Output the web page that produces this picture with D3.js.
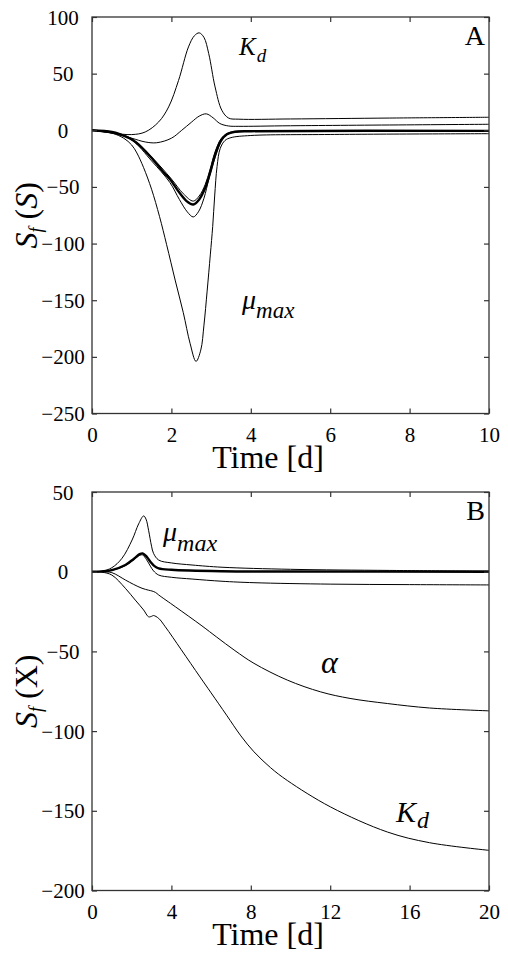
<!DOCTYPE html>
<html><head><meta charset="utf-8">
<script src="https://cdn.jsdelivr.net/npm/d3@7"></script>
<style>
body{margin:0;background:#fff}
svg{display:block}
</style>
</head><body>
<svg id="c" width="508" height="960"></svg>
<script>
// ---------- data ----------
const xTicksA = [0, 2, 4, 6, 8, 10];
const yTicksA = [100, 50, 0, -50, -100, -150, -200, -250];
const xTicksB = [0, 4, 8, 12, 16, 20];
const yTicksB = [50, 0, -50, -100, -150, -200];

// Panel A: S_f(S) sensitivity curves, [time, value]
const aKd = [[0,0],[0.5,-2.4],[1.0,-3.8],[1.34,-1.5],[1.68,7.4],[1.93,20.6],[2.18,44],[2.43,73.6],[2.58,83.5],[2.7,86],[2.82,82],[2.94,67.7],[3.1,38.3],[3.27,17.7],[3.44,10.8],[3.7,9.8],[5,10],[7.5,10.8],[10,11.5]];
const aBump = [[0,0],[0.5,-2.5],[1.0,-7],[1.34,-10.3],[1.63,-11],[2.0,-7],[2.26,0],[2.5,7],[2.7,12.5],[2.88,14.5],[3.05,11],[3.22,6],[3.44,3.8],[3.7,3.5],[5,4],[10,5.3]];
const aThick = [[0,0],[0.5,-1.5],[0.7,-3.5],[1.0,-8],[1.25,-15],[1.54,-26],[1.8,-37],[1.96,-43],[2.2,-55],[2.4,-63],[2.55,-65.5],[2.7,-61],[2.85,-51],[2.97,-38],[3.1,-22],[3.25,-9],[3.4,-3.5],[3.6,-1.3],[4,-0.8],[10,-0.5]];
const aThin1 = [[0,0],[0.5,-1.4],[1.0,-7.5],[1.5,-23.5],[2.0,-43],[2.3,-56],[2.55,-62.5],[2.7,-58],[2.85,-48],[2.97,-35],[3.1,-19],[3.25,-7.5],[3.4,-2.8],[3.6,-1.1],[4,-0.7],[10,-0.4]];
const aThin2 = [[0,0],[0.5,-1.6],[1.0,-8.5],[1.5,-27],[1.96,-46],[2.2,-61],[2.4,-72],[2.55,-76.5],[2.68,-72],[2.82,-60],[2.95,-42],[3.1,-24],[3.25,-10],[3.4,-3.8],[3.6,-1.5],[4,-1],[10,-0.6]];
const aMu = [[0,0],[0.5,-2.5],[0.8,-7],[1.0,-13],[1.13,-20],[1.3,-33],[1.5,-52],[1.7,-76],[1.88,-101],[2.1,-133],[2.3,-161],[2.47,-188],[2.62,-204],[2.74,-194],[2.82,-172],[2.9,-142],[2.98,-110],[3.04,-85],[3.09,-58],[3.15,-32],[3.23,-16],[3.35,-9],[3.5,-6.5],[4,-4.6],[6,-3.7],[10,-3]];

// Panel B: S_f(X) sensitivity curves, [time, value]
const bMu = [[0,0],[0.5,0.3],[1.0,2.5],[1.51,8.4],[2.02,19.9],[2.35,30],[2.6,35],[2.72,33],[2.85,26],[3.0,16],[3.1,11.5],[3.36,7.3],[4,5.5],[5.04,4.2],[6.55,2.8],[10,1.5],[15,0.8],[20,0.4]];
const bThick = [[0,0],[0.5,0.2],[1.0,1],[1.68,4.2],[2.1,8],[2.4,11],[2.55,11.5],[2.75,9.5],[2.94,6.3],[3.15,3.5],[3.36,2.1],[4,1.2],[6.55,0.3],[10,0.1],[20,0]];
const bNeg = [[0,0],[0.5,0.2],[1.0,0.9],[1.68,3.8],[2.1,7.5],[2.4,10.2],[2.55,10.5],[2.75,7.5],[2.94,3.5],[3.1,0.5],[3.36,-2.1],[4,-3.5],[5.04,-4.6],[6.55,-6],[8.16,-6.9],[12,-7.8],[16,-8.1],[20,-8.3]];
const bAlpha = [[0,0],[0.5,-0.1],[1.0,-0.6],[1.68,-5.2],[2.1,-8],[2.52,-10.4],[2.85,-11.6],[3.02,-12.1],[3.2,-13],[3.36,-14.6],[4.2,-22],[5.54,-34],[6.28,-41],[7.2,-49.5],[8.16,-57.5],[9.84,-68],[11.52,-75.4],[13,-79.5],[14.88,-82.7],[17,-85.5],[20,-87.3]];
const bKd = [[0,0],[0.5,-0.3],[1.0,-2.1],[1.68,-10.4],[2.18,-17.8],[2.6,-24],[2.85,-28.3],[3.0,-28],[3.1,-27.5],[3.36,-29.3],[3.69,-34.5],[4.5,-49],[5.44,-66],[6.0,-76],[6.78,-90],[7.5,-103],[8.16,-113],[9.0,-123],[9.84,-131],[12.02,-147.6],[14.88,-163.3],[17,-170],[20,-174.8]];

// ---------- drawing ----------
const FONT = '"Liberation Serif","Times New Roman",Times,serif';
const svg = d3.select("#c");

function panel(cfg) {
  const x = d3.scaleLinear().domain(cfg.xDomain).range([92, 489]);
  const y = d3.scaleLinear().domain(cfg.yDomain).range([cfg.bottom, cfg.top]);
  const g = svg.append("g").attr("font-family", FONT);

  const line = d3.line().x(d => x(d[0])).y(d => y(d[1])).curve(d3.curveCatmullRom.alpha(0.5));
  cfg.series.forEach(s => {
    g.append("path").attr("d", line(s.pts)).attr("fill", "none")
      .attr("stroke", "#000").attr("stroke-width", s.w).attr("stroke-linejoin", "round");
  });

  const tickStyle = sel => {
    sel.attr("font-family", FONT).attr("font-size", 21);
    sel.select(".domain").remove();
    sel.selectAll(".tick line").attr("stroke", "#333").attr("stroke-width", 1.2);
  };
  // bottom
  const gb = g.append("g").attr("transform", `translate(0,${cfg.bottom})`)
    .call(d3.axisBottom(x).tickValues(cfg.xTicks).tickSize(-5).tickPadding(0).tickFormat(d3.format("d")));
  tickStyle(gb);
  gb.selectAll(".tick text").attr("y", 28).attr("dy", null)
    .attr("font-family", FONT).attr("font-size", 21).attr("fill", "#000");
  // top
  const gt = g.append("g").attr("transform", `translate(0,${cfg.top})`)
    .call(d3.axisTop(x).tickValues(cfg.xTicks).tickSize(-5).tickFormat(""));
  tickStyle(gt);
  // left
  const gl = g.append("g").attr("transform", "translate(92,0)")
    .call(d3.axisLeft(y).tickValues(cfg.yTicks).tickSize(-5).tickFormat(d3.format("d")));
  tickStyle(gl);
  gl.selectAll(".tick text").attr("x", -29).attr("dy", null).attr("y", 7)
    .attr("text-anchor", "middle").attr("font-family", FONT).attr("font-size", 21).attr("fill", "#000");
  // right
  const gr = g.append("g").attr("transform", "translate(489,0)")
    .call(d3.axisRight(y).tickValues(cfg.yTicks).tickSize(-5).tickFormat(""));
  tickStyle(gr);

  // frame
  g.append("rect").attr("x", 92).attr("y", cfg.top).attr("width", 397).attr("height", cfg.bottom - cfg.top)
    .attr("fill", "none").attr("stroke", "#333").attr("stroke-width", 1.3);

  // x title
  g.append("text").attr("x", 268).attr("y", cfg.bottom + 54).attr("text-anchor", "middle")
    .attr("font-family", FONT).attr("font-size", 32).text("Time [d]");

  // y title
  const yt = g.append("text").attr("transform", `translate(37,${(cfg.top + cfg.bottom) / 2}) rotate(-90)`)
    .attr("text-anchor", "middle").attr("font-family", FONT).attr("font-size", 32);
  yt.append("tspan").attr("font-style", "italic").text("S");
  yt.append("tspan").attr("font-style", "italic").attr("font-size", 18).attr("dy", 5).text("f");
  yt.append("tspan").attr("dy", -5).text("\u00a0(");
  yt.append("tspan").attr("font-style", cfg.yVarItalic ? "italic" : "normal").text(cfg.yVar);
  yt.append("tspan").text(")");

  // panel letter
  g.append("text").attr("x", 485).attr("y", cfg.top + cfg.letterDy).attr("text-anchor", "end")
    .attr("font-family", FONT).attr("font-size", 28).text(cfg.letter);

  cfg.labels.forEach(l => {
    const t = g.append("text").attr("x", l.x).attr("y", l.y).attr("font-style", "italic")
      .attr("font-family", FONT);
    t.append("tspan").attr("font-size", l.size).text(l.main);
    if (l.sub) t.append("tspan").attr("font-size", l.subSize).attr("dx", l.subDx || 0).attr("dy", l.subDy).text(l.sub);
  });
}

panel({
  xDomain: [0, 10], yDomain: [-250, 100], top: 17, bottom: 413.5,
  xTicks: xTicksA, yTicks: yTicksA, letter: "A", letterDy: 28,
  yVar: "S", yVarItalic: true,
  series: [
    {pts: aKd, w: 1}, {pts: aBump, w: 1}, {pts: aThin1, w: 1},
    {pts: aThick, w: 2.4}, {pts: aThin2, w: 1}, {pts: aMu, w: 1}
  ],
  labels: [
    {x: 239, y: 55, main: "K", size: 25, sub: "d", subSize: 19, subDy: 7, subDx: 1},
    {x: 242, y: 309, main: "\u03bc", size: 28, sub: "max", subSize: 23, subDy: 9, subDx: 0}
  ]
});

panel({
  xDomain: [0, 20], yDomain: [-200, 50], top: 492, bottom: 890.5,
  xTicks: xTicksB, yTicks: yTicksB, letter: "B", letterDy: 28,
  yVar: "X", yVarItalic: false,
  series: [
    {pts: bMu, w: 1}, {pts: bNeg, w: 1}, {pts: bThick, w: 2.4},
    {pts: bAlpha, w: 1}, {pts: bKd, w: 1}
  ],
  labels: [
    {x: 163, y: 541, main: "\u03bc", size: 28, sub: "max", subSize: 24, subDy: 10, subDx: 0},
    {x: 321, y: 673, main: "\u03b1", size: 32},
    {x: 396, y: 822, main: "K", size: 30, sub: "d", subSize: 24, subDy: 6, subDx: 1}
  ]
});
</script>
</body></html>
